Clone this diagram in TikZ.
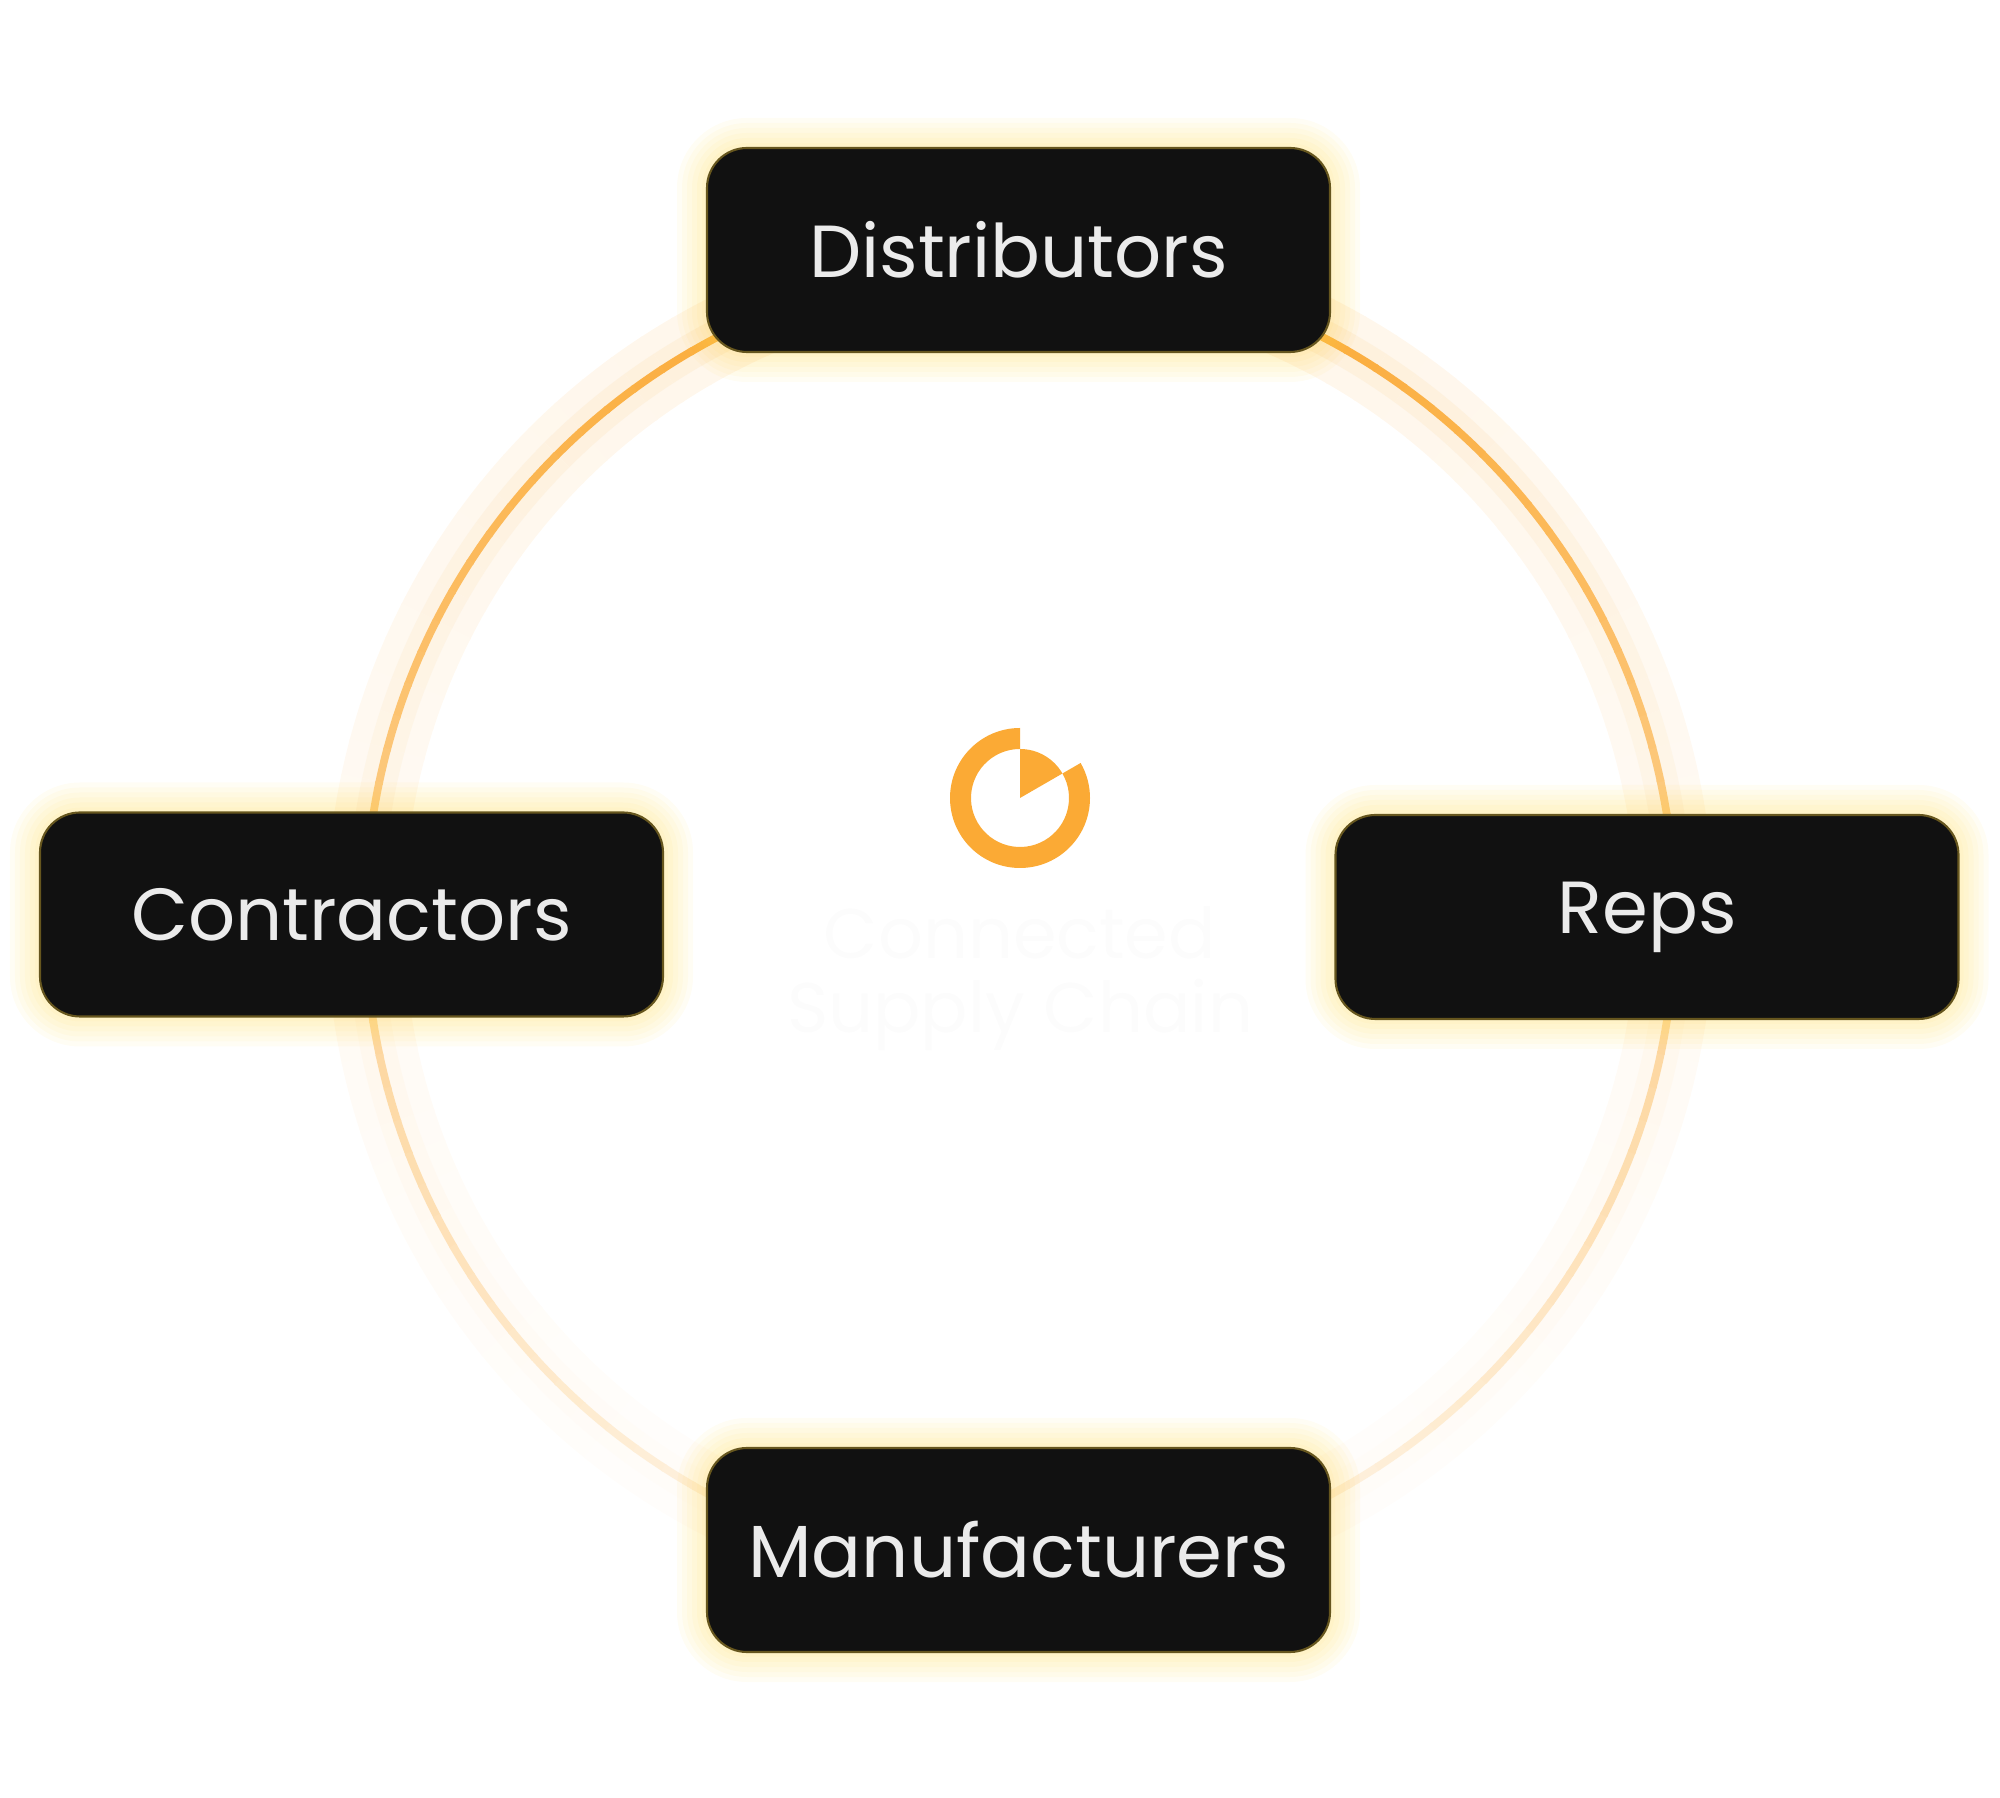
\documentclass[tikz,border=0pt]{standalone}
\usepackage{fontspec}
\setmainfont{Poppins}
\usetikzlibrary{calc}
\definecolor{ringorange}{HTML}{FBAA35}
\definecolor{boxblack}{HTML}{111111}
\definecolor{glowyellow}{HTML}{FFD84A}
\definecolor{ghost}{HTML}{FCFCFC}
\tikzset{
  partnerbox/.style={draw=glowyellow!40!black, line width=0.6pt, fill=boxblack,
    rounded corners=0.4cm, minimum width=6.23cm, minimum height=2.04cm,
    text=white!92!black, font=\fontsize{21}{25}\selectfont},
  ghosttext/.style={text=ghost, font=\fontsize{20}{24}\selectfont}
}
\begin{document}
\begin{tikzpicture}
  \useasboundingbox (0,0) rectangle (20,17.98);
  %The ring with soft glow, fading towards the bottom
  \coordinate (centre) at (10.2,8.8);
  \foreach \a in {0,3,...,357} {
    \pgfmathsetmacro{\t}{100*(0.12+0.88*(1+sin(\a+1.5))/2)}
    \colorlet{segcol}{ringorange!\t!white}
    \draw[segcol!10!white, line width=22pt] ([shift={(\a:6.55)}]centre) arc (\a:\a+3.2:6.55);
    \draw[segcol!18!white, line width=10pt] ([shift={(\a:6.55)}]centre) arc (\a:\a+3.2:6.55);
  }
  \foreach \a in {0,3,...,357} {
    \pgfmathsetmacro{\t}{100*(0.12+0.88*(1+sin(\a+1.5))/2)}
    \colorlet{segcol}{ringorange!\t!white}
    \draw[segcol, line width=2.2pt] ([shift={(\a:6.55)}]centre) arc (\a:\a+3.2:6.55);
  }
  %Logo in the middle
  \coordinate (logo) at (10.2,10.0);
  \fill[ringorange] ([shift={(90:0.7)}]logo) arc (90:390:0.7) -- ([shift={(30:0.49)}]logo) arc (30:-270:0.49) -- cycle;
  \fill[ringorange] (logo) -- ([shift={(90:0.49)}]logo) arc (90:30:0.49) -- cycle;
  \node[ghosttext] (title1) at (10.2,8.65) {Connected};
  \node[ghosttext] (title2) at (10.2,7.83) {Supply Chain};
  %Glow under the boxes
  \foreach \x/\y in {10.185/15.48,3.515/8.835,16.47/8.81,10.185/2.48} {
    \foreach \g in {1,...,6} {
      \pgfmathsetmacro{\rc}{0.4+\g*0.05}
      \pgfmathsetmacro{\dx}{3.115+\g*0.05}
      \pgfmathsetmacro{\dy}{1.02+\g*0.05}
      \fill[glowyellow, opacity=0.06, rounded corners=\rc cm]
        ($(\x,\y)+(-\dx,-\dy)$) rectangle ($(\x,\y)+(\dx,\dy)$);
    }
  }
  %The four partners
  \node[partnerbox] (distributors) at (10.185,15.48) {Distributors};
  \node[partnerbox] (contractors) at (3.515,8.835) {Contractors};
  \node[partnerbox] (reps) at (16.47,8.81) {Reps};
  \node[partnerbox] (manufacturers) at (10.185,2.48) {Manufacturers};
\end{tikzpicture}
\end{document}
